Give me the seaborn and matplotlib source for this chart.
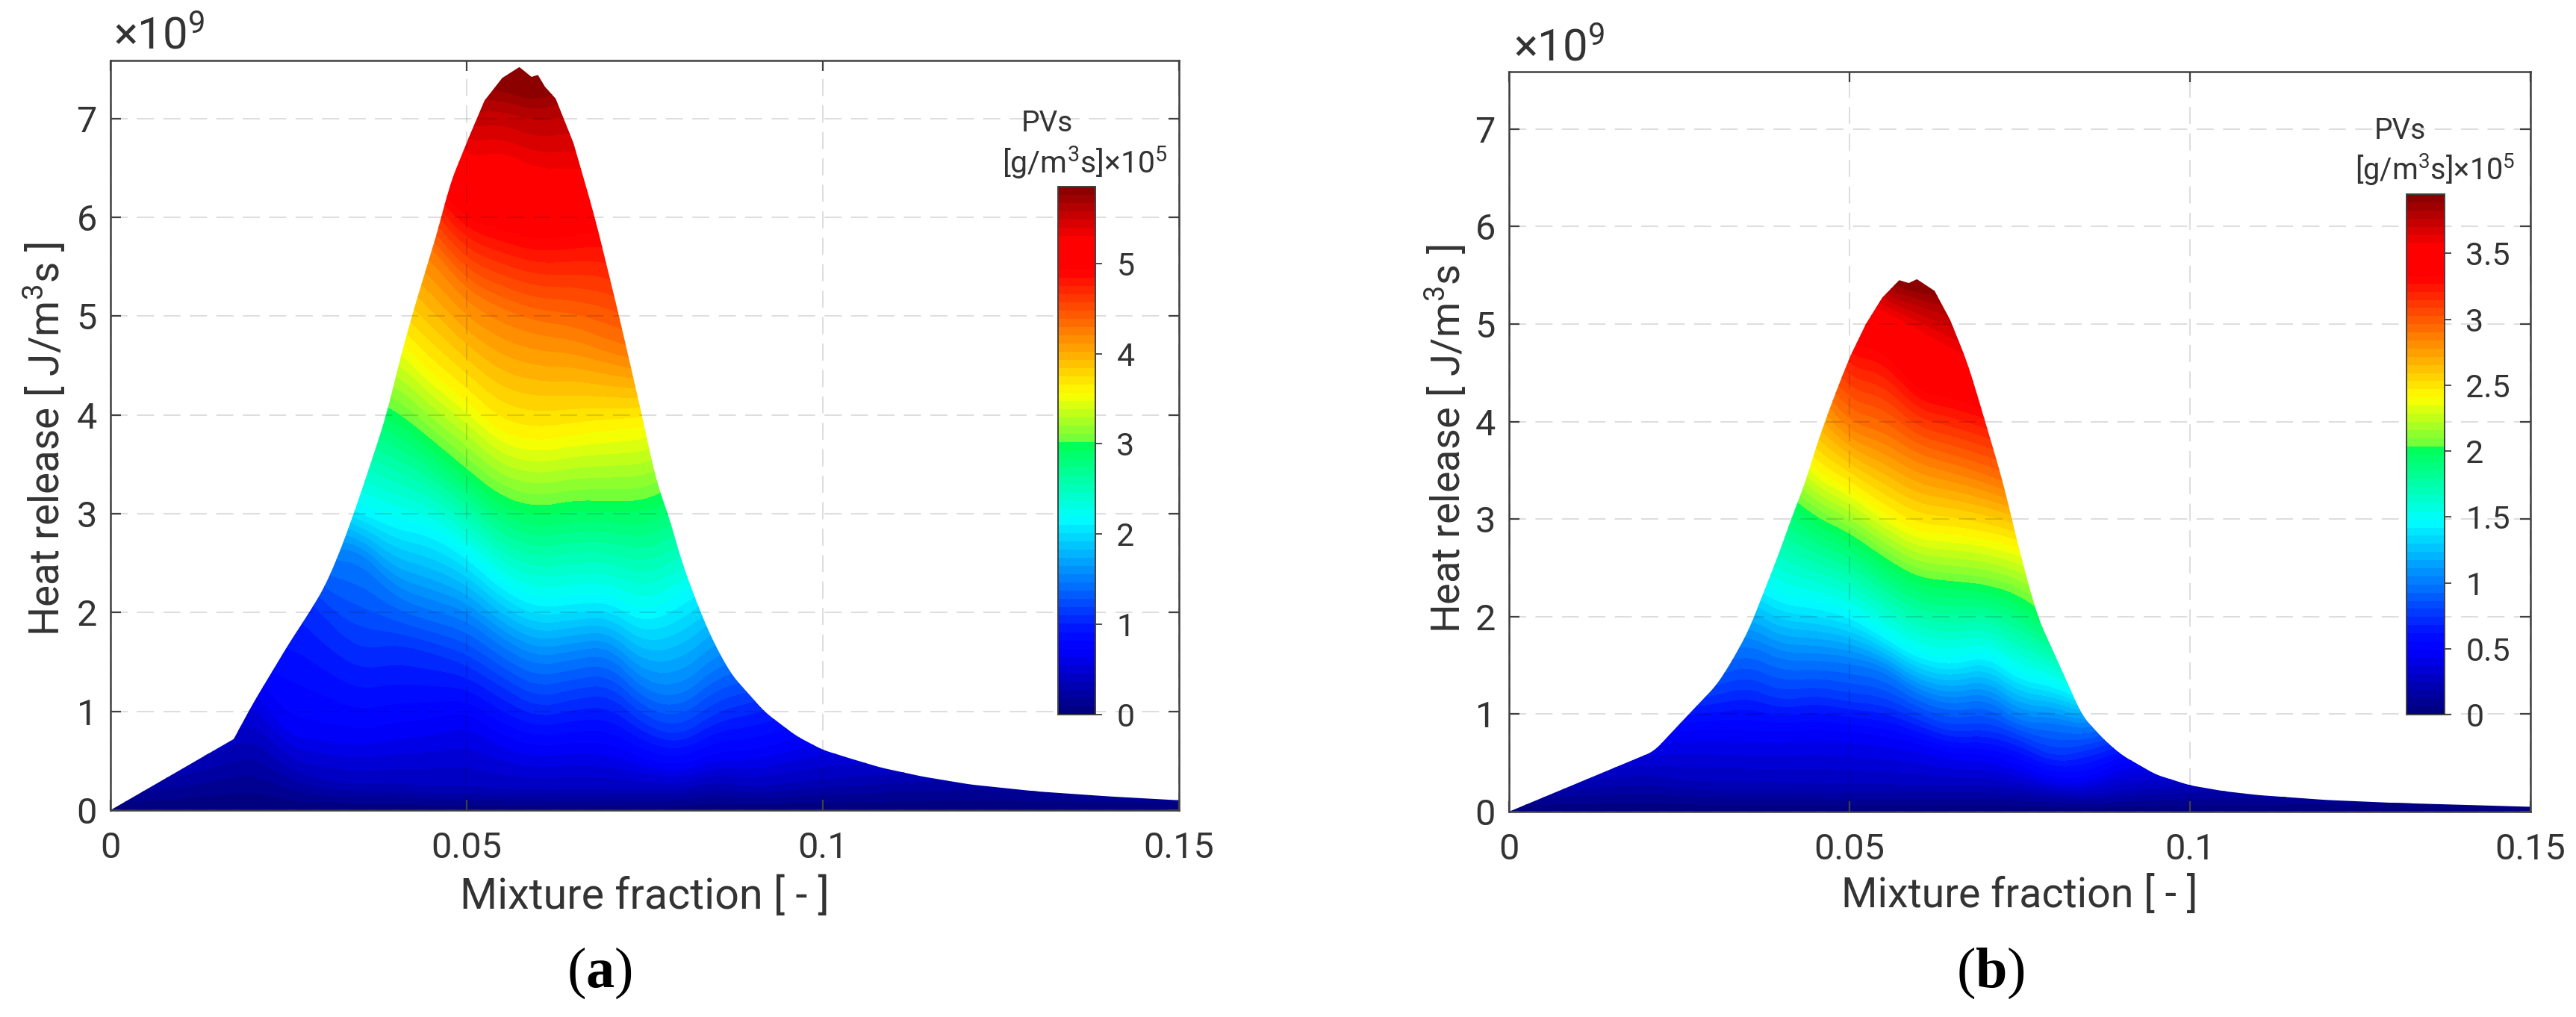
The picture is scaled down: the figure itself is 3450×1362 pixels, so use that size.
import numpy as np
import pandas as pd
import seaborn as sns
import matplotlib
matplotlib.use("Agg")
import matplotlib.pyplot as plt
from matplotlib.colors import LinearSegmentedColormap, Normalize
from matplotlib.patches import Polygon

sns.set_theme(style="ticks")
plt.rcParams['font.family'] = ['Roboto', 'DejaVu Sans']
plt.rcParams['mathtext.fontset'] = 'custom'
plt.rcParams['mathtext.bf'] = 'Liberation Serif:bold'
plt.rcParams['mathtext.default'] = 'regular'

# upper edge of the sheet, x in mixture fraction, y in 1e9 J/m3s
env_a_x = [0, .0173, .02, .025, .0278, .03, .032, .0341, .035, .0369, .0387, .0406, .0423, .0465, .0474,
           .0502, .0525, .055, .0574, .0591, .06, .061, .0625, .065, .068, .0714, .0746, .0767, .0783,
           .0802, .0829, .0848, .0872, .0919, .0963, .1, .104, .1082, .114, .1207, .13, .14, .15]
env_a_y = [0, .72, 1.08, 1.68, 1.99, 2.25, 2.58, 2.99, 3.18, 3.59, 3.99, 4.55, 5, 6, 6.29,
           6.79, 7.18, 7.41, 7.52, 7.42, 7.44, 7.32, 7.2, 6.75, 6, 5, 4, 3.3, 3,
           2.51, 1.99, 1.68, 1.37, .99, .75, .61, .52, .43, .34, .26, .19, .14, .1]
env_b_x = [0, .0213, .026, .0305, .0327, .0352, .0378, .0396, .0418, .0436, .0449, .0466, .0475, .0499,
           .0524, .0548, .0573, .0587, .0599, .0625, .0648, .0674, .0701, .0725, .0751, .0776, .0806,
           .0842, .0875, .09, .095, .1, .105, .11, .12, .13, .14, .15]
env_b_y = [0, .62, .97, 1.3, 1.54, 1.86, 2.32, 2.64, 3.07, 3.39, 3.7, 4.04, 4.21, 4.64,
           5, 5.27, 5.45, 5.42, 5.46, 5.34, 5.04, 4.59, 3.96, 3.39, 2.64, 2, 1.54,
           .98, .73, .58, .38, .27, .21, .17, .12, .09, .07, .05]

# mixture fraction stations where the PV iso-curves were read
stations = [0, .01, .02, .025, .03, .035, .04, .045, .05, .055, .06, .065, .07, .075, .08, .085, .09, .1, .12, .15]

# PV levels (1e5 g/m3s), one column per level in the height tables below
pv_a = [.35, .69, 1.1, 1.5, 2.15, 3.0, 3.6, 4.26, 4.95, 5.3, 5.6, 5.85]
pv_b = [.23, .47, .75, 1.0, 1.46, 2.0, 2.44, 2.88, 3.34, 3.58, 3.78, 3.95]

# height of each level at each station (a)
heights_a = [
    [.3, .7, 1.1, 1.5, 2.1, 3, 3.6, 4.3, 5, 5.5, 6, 6.5],
    [.45, .9, 1.3, 1.7, 2.4, 3.2, 3.9, 4.6, 5.3, 5.8, 6.3, 6.8],
    [.7, 1.35, 1.8, 2.2, 2.9, 3.6, 4.3, 5, 5.8, 6.3, 6.8, 7.3],
    [.4, .8, 2.4, 2.9, 3.2, 4.1, 4.8, 5.5, 6.3, 6.8, 7.2, 7.6],
    [.28, .78, 1.95, 2.6, 3.2, 4.3, 5, 5.7, 6.5, 7, 7.5, 8],
    [.25, .72, 1.63, 2.6, 3.05, 4.2, 4.95, 5.7, 6.5, 7, 7.5, 8],
    [.25, .8, 1.69, 2.2, 2.9, 4.03, 4.85, 6, 6.9, 7.4, 7.9, 8.3],
    [.22, .85, 1.6, 2.07, 2.83, 3.74, 4.47, 5.66, 6.4, 7, 7.5, 7.9],
    [.22, .95, 1.48, 1.97, 2.6, 3.44, 4.19, 5.23, 6, 6.6, 7.1, 7.5],
    [.2, .7, 1.25, 1.69, 2.27, 3.15, 3.85, 5.03, 5.89, 6.67, 7.12, 7.37],
    [.2, .6, 1.04, 1.5, 2.09, 3.05, 3.78, 4.9, 5.79, 6.49, 7, 7.27],
    [.2, .64, 1.13, 1.57, 2.13, 3.12, 3.84, 4.85, 5.84, 6.49, 7.1, 7.5],
    [.2, .63, 1.18, 1.62, 2.15, 3.11, 3.89, 4.7, 5.9, 6.5, 7, 7.4],
    [.2, .48, .86, 1.24, 1.94, 3.11, 3.92, 4.6, 5.6, 6.2, 6.8, 7.2],
    [.2, .42, .75, 1.18, 2.12, 3.3, 4.1, 4.8, 5.6, 6.2, 6.8, 7.2],
    [.28, .55, 1, 1.5, 2.4, 3.5, 4.2, 4.9, 5.6, 6.2, 6.8, 7.2],
    [.22, .55, 1.1, 1.6, 2.6, 3.6, 4.3, 5, 5.7, 6.3, 6.8, 7.2],
    [.3, .75, 1.3, 1.9, 2.8, 3.7, 4.4, 5, 5.7, 6.3, 6.8, 7.2],
    [.4, .9, 1.5, 2, 2.9, 3.8, 4.5, 5.1, 5.8, 6.3, 6.8, 7.2],
    [.3, .8, 1.4, 2, 2.9, 3.8, 4.5, 5.1, 5.8, 6.3, 6.8, 7.2],
]

# height of each level at each station (b)
heights_b = [
    [.25, .55, .9, 1.2, 1.7, 2.3, 2.9, 3.5, 4, 4.5, 5, 5.5],
    [.3, .65, 1, 1.3, 1.8, 2.5, 3.1, 3.6, 4.2, 4.7, 5.2, 5.6],
    [.35, .75, 1.1, 1.5, 2, 2.8, 3.4, 4, 4.6, 5, 5.4, 5.8],
    [.3, .8, 1.15, 1.55, 2.2, 3.1, 3.7, 4.3, 4.9, 5.3, 5.6, 6],
    [.27, .82, 1.2, 1.6, 2.4, 3.4, 4, 4.6, 5.2, 5.6, 5.9, 6.2],
    [.27, .8, 1.3, 1.75, 2.4, 3.6, 4.4, 5, 5.6, 6, 6.3, 6.6],
    [.27, .79, 1.15, 1.57, 2.18, 3.25, 4, 4.7, 5.4, 5.8, 6.1, 6.4],
    [.26, .82, 1.21, 1.57, 2.14, 2.98, 3.54, 4.4, 5.3, 5.7, 6, 6.3],
    [.25, .79, 1.14, 1.54, 2.04, 2.82, 3.36, 3.96, 4.8, 5.3, 5.7, 6],
    [.25, .75, 1.11, 1.46, 1.82, 2.57, 3.11, 3.86, 4.75, 5.14, 5.32, 5.5],
    [.25, .68, .96, 1.21, 1.61, 2.36, 2.91, 3.64, 4.32, 4.96, 5.21, 5.39],
    [.25, .57, .82, 1.11, 1.54, 2.32, 2.89, 3.54, 4.25, 4.75, 5.1, 5.36],
    [.25, .57, .86, 1.18, 1.64, 2.29, 2.84, 3.43, 4.14, 4.6, 5, 5.3],
    [.22, .46, .75, .93, 1.39, 2.18, 2.75, 3.3, 4, 4.5, 4.9, 5.2],
    [.18, .32, .57, .93, 1.32, 1.9, 2.6, 3.2, 3.9, 4.4, 4.8, 5.1],
    [.15, .32, .64, .85, 1.15, 1.6, 2.4, 3, 3.8, 4.3, 4.7, 5],
    [.2, .5, .75, 1, 1.4, 1.9, 2.6, 3.2, 3.9, 4.4, 4.8, 5.1],
    [.25, .55, .9, 1.2, 1.7, 2.4, 3, 3.6, 4.2, 4.6, 5, 5.3],
    [.3, .7, 1, 1.4, 2, 2.6, 3.2, 3.8, 4.4, 4.8, 5.2, 5.5],
    [.4, .8, 1.2, 1.6, 2.2, 2.8, 3.4, 4, 4.6, 5, 5.4, 5.7],
]

hr_ticks = [0, 1, 2, 3, 4, 5, 6, 7]
mix_ticks = [0, .05, .1, .15]
mix_labels = ['0', '0.05', '0.1', '0.15']
cbar_ticks_a = [0, 1, 2, 3, 4, 5]
cbar_ticks_b = [0, .5, 1, 1.5, 2, 2.5, 3, 3.5]

# the jet of the figure has a step right after green and a plateau in the red
pv_cmap = LinearSegmentedColormap.from_list('pv', [
    (0, (0, 0, .5)), (.118, (0, 0, 1)), (.15, (0, .05, 1)), (.37, (0, 1, 1)), (.508, (0, 1, .35)),
    (.512, (.38, 1, .25)), (.61, (1, 1, 0)), (.845, (1, 0, 0)), (.905, (1, 0, 0)), (1, (.55, 0, 0))], N=64)

W, H = 3450, 1362
DARK = '#404040'


def fig_x(px):
    return px / W


def fig_y(px):
    return 1 - px / H


def smooth(curve, n=41):
    # box filter so the 0.005 station spacing does not show up as kinks
    pad = np.pad(curve, n, mode='edge')
    out = np.convolve(pad, np.ones(n) / n, mode='same')
    return out[n:-n]


def edge_curve(xf, env_x, env_y):
    # the flanks and the tail are smooth in the figure, the tip keeps its bumps
    raw = np.interp(xf, env_x, env_y)
    soft = smooth(raw, 17)
    keep = (xf < .018) | ((xf > .05) & (xf < .066))
    return np.where(keep, raw, soft)


def draw_panel(box, env_x, env_y, pv, heights, pv_top, cbar_box, cbar_ticks):
    ax = fig.add_axes([fig_x(box[0]), fig_y(box[3]), (box[2] - box[0]) / W, (box[3] - box[1]) / H])

    xf = np.linspace(0, .15, 1201)
    yf = np.linspace(0, 7.6, 761)
    tab = np.array(heights)
    curves = [smooth(np.interp(xf, stations, tab[:, i])) for i in range(tab.shape[1])]
    curves = np.maximum.accumulate(np.array(curves), axis=0)

    # PV on the grid, column by column, from the iso-curve heights
    field = np.zeros((len(yf), len(xf)))
    for j in range(len(xf)):
        field[:, j] = np.interp(yf, np.r_[0, curves[:, j]], np.r_[0, pv])

    norm = Normalize(0, pv_top)
    # no antialiasing here, it leaves pale seams between the bands
    cs = ax.contourf(xf, yf, field, levels=np.linspace(0, pv_top, 65), cmap=pv_cmap, norm=norm, antialiased=False)

    sheet = Polygon(np.c_[np.r_[xf, .15], np.r_[edge_curve(xf, env_x, env_y), 0]], closed=True,
                    transform=ax.transData, fc='none', ec='none')
    ax.add_patch(sheet)
    cs.set_clip_path(sheet)

    # iso-curves on top of the bands, same colours
    iso = pd.DataFrame({
        'x': np.tile(xf[::4], len(pv)),
        'y': np.concatenate([c[::4] for c in curves]),
        'pv': np.repeat(pv, len(xf[::4])),
    })
    sns.lineplot(data=iso, x='x', y='y', hue='pv', hue_norm=norm, palette=pv_cmap, legend=False,
                 linewidth=.4, alpha=.5, estimator=None, sort=False, ax=ax)
    for ln in ax.lines:
        ln.set_clip_path(sheet)

    ax.set_xlim(0, .15)
    ax.set_ylim(0, 7.59)
    ax.set_xticks(mix_ticks)
    ax.set_xticklabels(mix_labels)
    ax.set_yticks(hr_ticks)
    ax.set_xlabel('')
    ax.set_ylabel('')
    ax.set_axisbelow(False)
    ax.grid(True, color='black', alpha=.13, linewidth=1.5, linestyle=(0, (11, 6)))
    ax.tick_params(direction='in', length=10, width=1.6, color=DARK, labelcolor='#333333', labelsize=35,
                   top=True, right=True, pad=13)
    ax.tick_params(axis='x', pad=20)
    for s in ax.spines.values():
        s.set_visible(True)
        s.set_color(DARK)
        s.set_linewidth(1.8)

    cax = fig.add_axes([fig_x(cbar_box[0]), fig_y(cbar_box[3]), (cbar_box[2] - cbar_box[0]) / W,
                        (cbar_box[3] - cbar_box[1]) / H])
    cb = fig.colorbar(cs, cax=cax, ticks=cbar_ticks)
    cb.ax.set_yticklabels([f'{t:g}' for t in cbar_ticks])
    cb.ax.tick_params(length=6.5, width=1.3, color=DARK, labelcolor='#333333', labelsize=31, pad=14)
    cb.outline.set_edgecolor(DARK)
    cb.outline.set_linewidth(1.4)
    return ax


fig = plt.figure(figsize=(W / 100, H / 100), dpi=100)

draw_panel((148, 80.5, 1579, 1085), env_a_x, env_a_y, pv_a, heights_a, 5.85, (1417, 250, 1467, 957), cbar_ticks_a)
draw_panel((2021, 95.7, 3389, 1087), env_b_x, env_b_y, pv_b, heights_b, 3.95, (3223, 260, 3274, 957), cbar_ticks_b)

TXT = '#333333'
fig.text(fig_x(152), fig_y(66), '×10$^{9}$', fontsize=43, color=TXT, va='baseline')
fig.text(fig_x(2027), fig_y(82), '×10$^{9}$', fontsize=43, color=TXT, va='baseline')

fig.text(fig_x(863), fig_y(1201), 'Mixture fraction [ - ]', fontsize=41.4, color=TXT, ha='center', va='center')
fig.text(fig_x(2705), fig_y(1199), 'Mixture fraction [ - ]', fontsize=40, color=TXT, ha='center', va='center')
fig.text(fig_x(60), fig_y(588), 'Heat release [ J/m$^3$s ]', fontsize=39.5, color=TXT, rotation=90,
         ha='center', va='center')
fig.text(fig_x(1937), fig_y(588), 'Heat release [ J/m$^3$s ]', fontsize=39, color=TXT, rotation=90,
         ha='center', va='center')

fig.text(fig_x(1402), fig_y(165), 'PVs', fontsize=28, color=TXT, ha='center', va='center')
fig.text(fig_x(1453), fig_y(218), '[g/m$^3$s]×10$^{5}$', fontsize=29.5, color=TXT, ha='center', va='center')
fig.text(fig_x(3214), fig_y(176), 'PVs', fontsize=28, color=TXT, ha='center', va='center')
fig.text(fig_x(3261), fig_y(227), '[g/m$^3$s]×10$^{5}$', fontsize=28.5, color=TXT, ha='center', va='center')

fig.text(fig_x(803), fig_y(1303), r'($\mathbf{a}$)', fontsize=55, family='Liberation Serif', color='black',
         ha='center', va='center')
fig.text(fig_x(2666), fig_y(1303), r'($\mathbf{b}$)', fontsize=55, family='Liberation Serif', color='black',
         ha='center', va='center')

fig.savefig('out.png', dpi=100, facecolor='white')
